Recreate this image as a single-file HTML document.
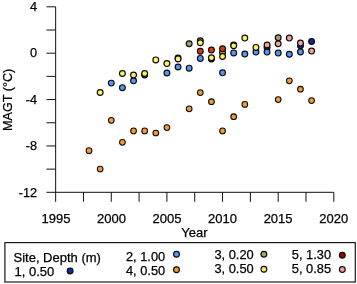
<!DOCTYPE html><html><head><meta charset="utf-8"><style>html,body{margin:0;padding:0;background:#fff}svg{display:block}text{font-family:"Liberation Sans",Arial,sans-serif;fill:#000;stroke:#000;stroke-width:0.25px}</style></head><body>
<svg width="357" height="284" viewBox="0 0 357 284">
<rect width="357" height="284" fill="#fff"/>
<g stroke="#111" stroke-width="1" fill="none" shape-rendering="auto">
<path d="M55.65 6.8 V201.8"/>
<path d="M46.45 192.3 H333.8"/>
<path d="M46.45 6.80 H55.65"/>
<path d="M46.45 29.99 H55.65"/>
<path d="M46.45 53.18 H55.65"/>
<path d="M46.45 76.37 H55.65"/>
<path d="M46.45 99.56 H55.65"/>
<path d="M46.45 122.75 H55.65"/>
<path d="M46.45 145.94 H55.65"/>
<path d="M46.45 169.13 H55.65"/>
<path d="M83.47 192.3 V201.8"/>
<path d="M111.28 192.3 V201.8"/>
<path d="M139.09 192.3 V201.8"/>
<path d="M166.91 192.3 V201.8"/>
<path d="M194.73 192.3 V201.8"/>
<path d="M222.54 192.3 V201.8"/>
<path d="M250.36 192.3 V201.8"/>
<path d="M278.17 192.3 V201.8"/>
<path d="M305.99 192.3 V201.8"/>
<path d="M333.80 192.3 V201.8"/>
</g>
<text x="37.0" y="11.05" font-size="12.7" text-anchor="end">4</text>
<text x="37.0" y="57.43" font-size="12.7" text-anchor="end">0</text>
<text x="37.0" y="103.81" font-size="12.7" text-anchor="end">-4</text>
<text x="37.0" y="150.19" font-size="12.7" text-anchor="end">-8</text>
<text x="37.0" y="196.57" font-size="12.7" text-anchor="end">-12</text>
<text x="55.90" y="222.6" font-size="13.0" text-anchor="middle">1995</text>
<text x="111.45" y="222.6" font-size="13.0" text-anchor="middle">2000</text>
<text x="167.00" y="222.6" font-size="13.0" text-anchor="middle">2005</text>
<text x="222.55" y="222.6" font-size="13.0" text-anchor="middle">2010</text>
<text x="278.10" y="222.6" font-size="13.0" text-anchor="middle">2015</text>
<text x="333.65" y="222.6" font-size="13.0" text-anchor="middle">2020</text>
<text x="194.4" y="237.3" font-size="13.0" text-anchor="middle">Year</text>
<text transform="translate(11.5,99.8) rotate(-90)" font-size="12.6" text-anchor="middle">MAGT (°C)</text>
<g stroke="#0a0a0a" stroke-width="1.15">
<circle cx="144.67" cy="75.0" r="2.9" fill="#0a2a9c"/>
<circle cx="211.43" cy="59.0" r="2.9" fill="#0a2a9c"/>
<circle cx="267.06" cy="47.4" r="2.9" fill="#0a2a9c"/>
<circle cx="300.44" cy="45.7" r="2.9" fill="#0a2a9c"/>
<circle cx="311.57" cy="41.4" r="2.9" fill="#0a2a9c"/>
<circle cx="111.28" cy="83.1" r="2.9" fill="#5595f5"/>
<circle cx="122.41" cy="87.7" r="2.9" fill="#5595f5"/>
<circle cx="133.54" cy="80.8" r="2.9" fill="#5595f5"/>
<circle cx="166.92" cy="73" r="2.9" fill="#5595f5"/>
<circle cx="178.05" cy="67" r="2.9" fill="#5595f5"/>
<circle cx="189.17" cy="68.2" r="2.9" fill="#5595f5"/>
<circle cx="200.3" cy="58.4" r="2.9" fill="#5595f5"/>
<circle cx="222.56" cy="72.8" r="2.9" fill="#5595f5"/>
<circle cx="233.68" cy="52.9" r="2.9" fill="#5595f5"/>
<circle cx="244.81" cy="54.1" r="2.9" fill="#5595f5"/>
<circle cx="255.94" cy="52.1" r="2.9" fill="#5595f5"/>
<circle cx="267.06" cy="52.1" r="2.9" fill="#5595f5"/>
<circle cx="278.19" cy="53.1" r="2.9" fill="#5595f5"/>
<circle cx="289.32" cy="54.3" r="2.9" fill="#5595f5"/>
<circle cx="300.44" cy="51.9" r="2.9" fill="#5595f5"/>
<circle cx="89.03" cy="150.7" r="2.85" stroke-width="1.05" fill="#f59a2e"/>
<circle cx="100.16" cy="169" r="2.85" stroke-width="1.05" fill="#f59a2e"/>
<circle cx="111.28" cy="120.3" r="2.85" stroke-width="1.05" fill="#f59a2e"/>
<circle cx="122.41" cy="142.3" r="2.85" stroke-width="1.05" fill="#f59a2e"/>
<circle cx="133.54" cy="130.9" r="2.85" stroke-width="1.05" fill="#f59a2e"/>
<circle cx="144.67" cy="130.9" r="2.85" stroke-width="1.05" fill="#f59a2e"/>
<circle cx="155.79" cy="133" r="2.85" stroke-width="1.05" fill="#f59a2e"/>
<circle cx="166.92" cy="127.6" r="2.85" stroke-width="1.05" fill="#f59a2e"/>
<circle cx="189.17" cy="108.8" r="2.85" stroke-width="1.05" fill="#f59a2e"/>
<circle cx="200.3" cy="92.6" r="2.85" stroke-width="1.05" fill="#f59a2e"/>
<circle cx="211.43" cy="101.7" r="2.85" stroke-width="1.05" fill="#f59a2e"/>
<circle cx="222.56" cy="130.9" r="2.85" stroke-width="1.05" fill="#f59a2e"/>
<circle cx="233.68" cy="116.7" r="2.85" stroke-width="1.05" fill="#f59a2e"/>
<circle cx="244.81" cy="104.4" r="2.85" stroke-width="1.05" fill="#f59a2e"/>
<circle cx="278.19" cy="99.6" r="2.85" stroke-width="1.05" fill="#f59a2e"/>
<circle cx="289.32" cy="80.8" r="2.85" stroke-width="1.05" fill="#f59a2e"/>
<circle cx="300.44" cy="89.2" r="2.85" stroke-width="1.05" fill="#f59a2e"/>
<circle cx="311.57" cy="100.6" r="2.85" stroke-width="1.05" fill="#f59a2e"/>
<circle cx="178.05" cy="58.0" r="2.9" fill="#a3a362"/>
<circle cx="189.17" cy="43.7" r="2.9" fill="#a3a362"/>
<circle cx="200.3" cy="40.7" r="2.9" fill="#a3a362"/>
<circle cx="222.56" cy="52.4" r="2.9" fill="#a3a362"/>
<circle cx="233.68" cy="45.0" r="2.9" fill="#a3a362"/>
<circle cx="278.19" cy="37.7" r="2.9" fill="#a3a362"/>
<circle cx="100.16" cy="92.5" r="2.9" fill="#fbf35e"/>
<circle cx="122.41" cy="73.5" r="2.9" fill="#fbf35e"/>
<circle cx="133.54" cy="75" r="2.9" fill="#fbf35e"/>
<circle cx="144.67" cy="73.5" r="2.9" fill="#fbf35e"/>
<circle cx="155.79" cy="59.9" r="2.9" fill="#fbf35e"/>
<circle cx="166.92" cy="63.6" r="2.9" fill="#fbf35e"/>
<circle cx="178.05" cy="58.9" r="2.9" fill="#fbf35e"/>
<circle cx="200.3" cy="42.8" r="2.9" fill="#fbf35e"/>
<circle cx="211.43" cy="57.8" r="2.9" fill="#fbf35e"/>
<circle cx="222.56" cy="56.5" r="2.9" fill="#fbf35e"/>
<circle cx="233.68" cy="45.8" r="2.9" fill="#fbf35e"/>
<circle cx="244.81" cy="38.1" r="2.9" fill="#fbf35e"/>
<circle cx="255.94" cy="47.4" r="2.9" fill="#fbf35e"/>
<circle cx="200.3" cy="51.3" r="2.9" fill="#e2340f"/>
<circle cx="211.43" cy="50.1" r="2.9" fill="#e2340f"/>
<circle cx="222.56" cy="48.7" r="2.9" fill="#e2340f"/>
<circle cx="267.06" cy="45.0" r="2.9" fill="#f7a0a4"/>
<circle cx="278.19" cy="43.8" r="2.9" fill="#f7a0a4"/>
<circle cx="289.32" cy="38.1" r="2.9" fill="#f7a0a4"/>
<circle cx="300.44" cy="43.1" r="2.9" fill="#f7a0a4"/>
<circle cx="311.57" cy="51.1" r="2.9" fill="#f7a0a4"/>
</g>
<rect x="4.9" y="242.6" width="350.4" height="39.4" fill="#fff" stroke="#1a1a1a" stroke-width="1.2"/>
<text x="13.5" y="261.5" font-size="13.0">Site, Depth (m)</text>
<text x="14.5" y="275.7" font-size="13.0">1, 0.50</text>
<text x="126" y="260.6" font-size="12.8">2, 1.00</text>
<text x="126" y="275.1" font-size="12.8">4, 0.50</text>
<text x="214.4" y="258.95" font-size="12.85">3, 0.20</text>
<text x="214.4" y="273.45" font-size="12.85">3, 0.50</text>
<text x="291.8" y="258.95" font-size="12.85">5, 1.30</text>
<text x="291.8" y="273.45" font-size="12.85">5, 0.85</text>
<g stroke="#0a0a0a" stroke-width="1.15">
<circle cx="70.1" cy="270.9" r="2.9" fill="#0a2a9c"/>
<circle cx="176.5" cy="254.2" r="2.9" fill="#5595f5"/>
<circle cx="176.5" cy="269.7" r="2.9" fill="#f59a2e"/>
<circle cx="263.9" cy="254.2" r="2.9" fill="#a3a362"/>
<circle cx="263.9" cy="269.2" r="2.9" fill="#fbf35e"/>
<circle cx="342.3" cy="255.2" r="2.9" fill="#a00008"/>
<circle cx="342.3" cy="269.5" r="2.9" fill="#f7a0a4"/>
</g>
</svg></body></html>
